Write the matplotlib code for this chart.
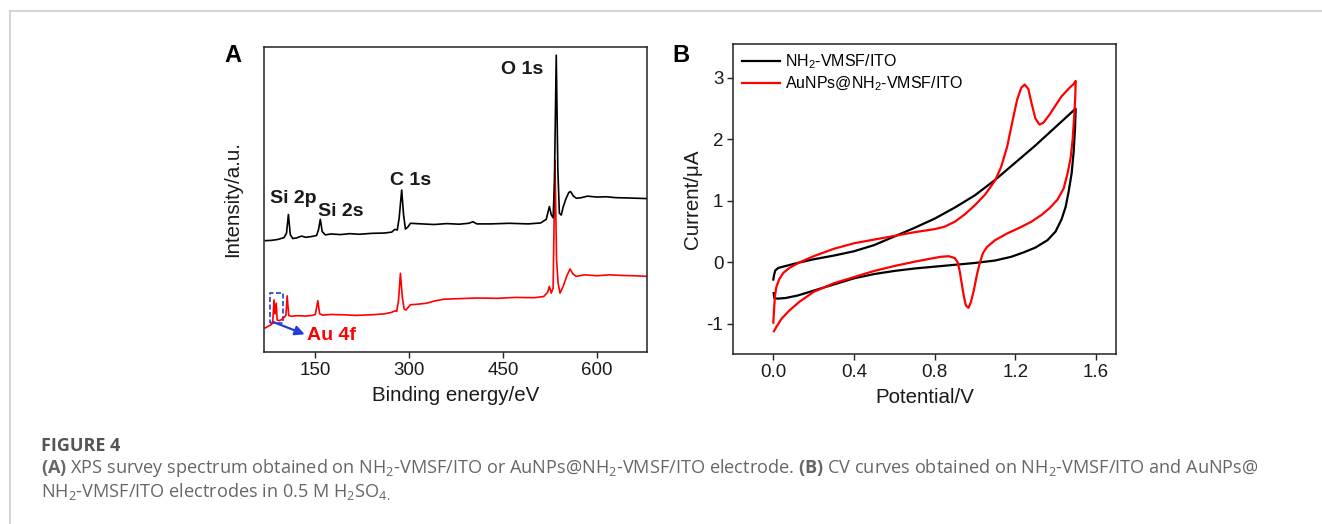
import matplotlib
matplotlib.use("Agg")
import matplotlib.pyplot as plt
from matplotlib.lines import Line2D
from matplotlib.patches import Rectangle, FancyArrowPatch

plt.rcParams['font.family'] = ['Liberation Sans', 'DejaVu Sans']
plt.rcParams['mathtext.default'] = 'regular'
plt.rcParams['mathtext.fontset'] = 'custom'
plt.rcParams['mathtext.rm'] = 'Open Sans'
plt.rcParams['mathtext.bf'] = 'Open Sans:bold'
plt.rcParams['axes.unicode_minus'] = False

# ---------------- data: XPS survey (panel A) ----------------
xps_be_black = [70, 80, 90, 100, 104, 107, 110, 114, 120, 128, 135, 145, 152, 155, 158, 161, 166,
                175, 190, 205, 220, 240, 260, 272, 277, 281, 284, 288, 291, 294, 298, 302, 320,
                340, 360, 380, 395, 402, 408, 430, 460, 490, 510, 519, 524, 527, 530, 532, 535,
                537.5, 540, 543, 546, 550, 555, 558, 562, 567, 575, 585, 600, 615, 630, 650, 665, 680]
xps_int_black = [36.5, 36.6, 36.9, 37.5, 39, 45.1, 38.5, 37.2, 37.4, 38.0, 37.6, 37.9, 38.2, 40, 43.5, 39.5, 38.4,
                 38.7, 38.5, 38.8, 38.6, 38.9, 39.0, 39.3, 40.2, 40.0, 44, 53.1, 45, 40.3, 41.0, 42.2, 42.0,
                 41.8, 42.1, 41.9, 42.2, 42.7, 42.0, 42.0, 42.2, 42.0, 42.3, 43.5, 47.7, 45, 44.0, 55, 97.3,
                 60, 45.5, 44.9, 47.5, 50.0, 52.3, 52.6, 51.2, 50.4, 50.6, 51.1, 50.8, 50.9, 50.6, 50.5, 50.4, 50.3]

xps_be_red = [70, 76, 80, 82, 84, 85.5, 87.5, 89, 92, 95, 100, 103, 105, 107.5, 112, 120, 135, 145, 150,
              154, 157, 162, 175, 195, 215, 240, 260, 272, 277, 280, 283, 286, 289, 292, 295, 302, 315,
              328, 340, 355, 380, 408, 440, 470, 500, 515, 521, 524, 527, 530, 533, 535.5, 538, 541, 546,
              552, 557, 562, 567, 580, 600, 620, 640, 660, 680]
xps_int_red = [7.9, 8.6, 9.0, 10, 17.1, 12.5, 16.0, 10.5, 10.3, 10.5, 11.3, 12, 18.4, 12, 11.7, 11.9, 11.8, 12.0, 12.3,
               16.8, 12.5, 12.1, 12.3, 12.2, 12.0, 12.2, 12.5, 13, 13.5, 13.3, 17, 25.8, 18, 14, 13.8, 15.5, 15.7,
               16.0, 16.7, 17.3, 17.5, 17.7, 17.6, 17.9, 17.8, 18.2, 19.5, 21.5, 19.3, 21, 62.9, 30, 22.6, 19.3, 21.5,
               25, 27.2, 25.5, 24.8, 25.3, 25.0, 25.3, 25.1, 25.0, 24.8]

peak_labels = ["Si 2p", "Si 2s", "C 1s", "O 1s"]
peak_label_x = [114, 191, 302, 481]
peak_label_y = [50.4, 46.2, 56.2, 92.7]

xps_xticks = [150, 300, 450, 600]

# ---------------- data: CV curves (panel B) ----------------
cv_E_black = [0.0, 0.004, 0.01, 0.025, 0.06, 0.12, 0.2, 0.3, 0.4, 0.5, 0.6, 0.7, 0.8, 0.9, 1.0, 1.1, 1.2,
              1.3, 1.4, 1.5,
              1.497, 1.49, 1.48, 1.465, 1.45, 1.43, 1.4, 1.36, 1.3, 1.24, 1.18, 1.1, 1.0, 0.9, 0.8, 0.7,
              0.6, 0.5, 0.4, 0.3, 0.2, 0.12, 0.06, 0.02, 0.005, 0.002]
cv_I_black = [-0.28, -0.2, -0.13, -0.09, -0.06, -0.01, 0.05, 0.11, 0.18, 0.28, 0.42, 0.56, 0.71, 0.89, 1.09,
              1.34, 1.62, 1.9, 2.2, 2.5,
              2.2, 1.8, 1.45, 1.15, 0.9, 0.7, 0.5, 0.36, 0.24, 0.16, 0.09, 0.03, -0.01, -0.04, -0.07, -0.1,
              -0.14, -0.19, -0.26, -0.36, -0.46, -0.54, -0.58, -0.59, -0.58, -0.5]

cv_E_red = [0.0, 0.003, 0.008, 0.015, 0.03, 0.05, 0.08, 0.13, 0.2, 0.3, 0.4, 0.5, 0.6, 0.7, 0.8, 0.85,
            0.9, 0.95, 1.0, 1.05, 1.1, 1.13, 1.16, 1.19, 1.21, 1.23, 1.247, 1.265, 1.28, 1.3, 1.32, 1.34,
            1.37, 1.4, 1.43, 1.47, 1.49, 1.5,
            1.498, 1.493, 1.485, 1.475, 1.46, 1.44, 1.41, 1.37, 1.33, 1.28, 1.22, 1.16, 1.1, 1.06, 1.04,
            1.025, 1.01, 0.995, 0.98, 0.968, 0.955, 0.945, 0.935, 0.925, 0.915, 0.9, 0.87, 0.83, 0.78,
            0.7, 0.6, 0.5, 0.4, 0.3, 0.2, 0.13, 0.08, 0.04, 0.015, 0.003]
cv_I_red = [-0.98, -0.8, -0.55, -0.4, -0.27, -0.17, -0.09, 0.0, 0.1, 0.22, 0.31, 0.37, 0.43, 0.49, 0.54, 0.58,
            0.66, 0.78, 0.93, 1.1, 1.33, 1.55, 1.88, 2.35, 2.65, 2.84, 2.89, 2.82, 2.6, 2.34, 2.24, 2.27,
            2.4, 2.55, 2.7, 2.84, 2.9, 2.95,
            2.7, 2.4, 2.0, 1.7, 1.45, 1.2, 1.02, 0.88, 0.77, 0.66, 0.56, 0.47, 0.36, 0.25, 0.15,
            0.0, -0.2, -0.45, -0.65, -0.74, -0.7, -0.55, -0.35, -0.15, 0.0, 0.07, 0.1, 0.09, 0.06,
            0.01, -0.06, -0.14, -0.24, -0.34, -0.48, -0.64, -0.78, -0.92, -1.05, -1.12]

cv_xticks = [0.0, 0.4, 0.8, 1.2, 1.6]
cv_yticks = [-1, 0, 1, 2, 3]
legend_labels = ["NH$_2$-VMSF/ITO", "AuNPs@NH$_2$-VMSF/ITO"]

# ---------------- figure ----------------
W, H = 1322, 524
fig = plt.figure(figsize=(W / 100, H / 100), dpi=100)
fig.patch.set_facecolor('white')

def fx(px):
    return px / W

def fy(py):
    return 1 - py / H

ink = '#1a1a1a'

# frame lines of the page
fig.add_artist(Line2D([fx(10), 1.0], [fy(11), fy(11)], color='#cccccc', lw=1.2))
fig.add_artist(Line2D([fx(10), fx(10)], [fy(11), 0.0], color='#cccccc', lw=1.2))

def style_axes(ax):
    for s in ax.spines.values():
        s.set_color('#222222')
        s.set_linewidth(1.1)
    ax.tick_params(direction='out', length=4, width=1.0, color='#222222',
                   labelsize=13.5, labelcolor=ink, pad=3)

# Panel A
axA = fig.add_axes([fx(264), fy(352), fx(647) - fx(264), fy(47) - fy(352)])
style_axes(axA)
axA.plot(xps_be_red, xps_int_red, color='#ff0000', lw=1.2)
axA.plot(xps_be_black, xps_int_black, color='black', lw=1.2)
axA.set_xlim(68, 680)
axA.set_ylim(0, 100)
axA.set_xticks(xps_xticks)
axA.set_yticks([])
axA.set_xlabel('Binding energy/eV', fontsize=14.8, color=ink, labelpad=5)
axA.set_ylabel('Intensity/a.u.', fontsize=14.8, color=ink, labelpad=16)
for t, x, y in zip(peak_labels, peak_label_x, peak_label_y):
    axA.text(x, y, t, fontsize=14, fontweight='bold', ha='center', va='center', color=ink)
axA.add_patch(Rectangle((77, 9.5), 21, 10, fill=False, ec='#1f3fd6', lw=1.2, ls=(0, (3, 1.5))))
axA.add_patch(FancyArrowPatch((82, 9.9), (133, 5.8), arrowstyle='-|>', mutation_scale=14,
                              color='#1f3fd6', lw=1.6, shrinkA=0, shrinkB=0))
axA.text(136, 5.4, 'Au 4f', fontsize=14, fontweight='bold', color='#ff0000', ha='left', va='center')

# Panel B
axB = fig.add_axes([fx(733), fy(354), fx(1116) - fx(733), fy(44) - fy(354)])
style_axes(axB)
axB.plot(cv_E_black, cv_I_black, color='black', lw=1.6, label=legend_labels[0])
axB.plot(cv_E_red, cv_I_red, color='#ff0000', lw=1.6, label=legend_labels[1])
axB.set_xlim(-0.2, 1.7)
axB.set_ylim(-1.49, 3.55)
axB.set_xticks(cv_xticks)
axB.set_xticklabels([f'{v:.1f}' for v in cv_xticks])
axB.set_yticks(cv_yticks)
axB.set_xlabel('Potential/V', fontsize=14.8, color=ink, labelpad=5)
axB.set_ylabel('Current/\u03bcA', fontsize=14.8, color=ink, labelpad=3)
axB.legend(loc='upper left', frameon=False, fontsize=11.5, handlelength=2.4, handletextpad=0.3,
           borderaxespad=0.15, labelspacing=0.2, bbox_to_anchor=(0.0, 1.0))

# panel letters
fig.text(fx(224), fy(55), 'A', fontsize=17, fontweight='bold', color='black', va='center', ha='left')
fig.text(fx(672), fy(55), 'B', fontsize=17, fontweight='bold', color='black', va='center', ha='left')

# caption
cap_color = '#666666'
fig.text(fx(41), fy(446), 'FIGURE 4', fontsize=13, fontweight='bold', color='#555555',
         family='Open Sans', va='center', ha='left')
fig.text(fx(41), fy(468),
         r'$\mathbf{(A)}$ XPS survey spectrum obtained on NH$_2$-VMSF/ITO or AuNPs@NH$_2$-VMSF/ITO electrode. '
         r'$\mathbf{(B)}$ CV curves obtained on NH$_2$-VMSF/ITO and AuNPs@',
         fontsize=13.05, color=cap_color, family='Open Sans', va='center', ha='left')
fig.text(fx(41), fy(491), r'NH$_2$-VMSF/ITO electrodes in 0.5 M H$_2$SO$_{4.}$',
         fontsize=13.05, color=cap_color, family='Open Sans', va='center', ha='left')

fig.savefig('out.png', dpi=100, facecolor='white')
